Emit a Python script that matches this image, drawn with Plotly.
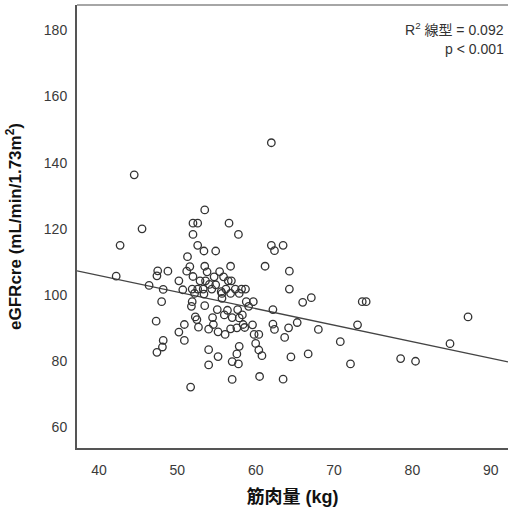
import plotly.graph_objects as go

muscle_kg = [
    42.2, 42.7, 44.5, 45.5, 46.4, 47.5, 47.4, 48.8, 48.2, 48.0, 47.3, 48.2, 48.1, 47.4,
    50.2, 50.7, 50.2, 50.9, 50.9, 51.3, 51.2, 51.6,
    52.0, 52.6, 52.0, 53.5, 56.6, 57.8, 52.6, 53.4, 54.9, 52.0, 53.5, 53.8, 52.9, 53.6,
    55.4, 56.8, 54.7, 55.9, 56.5, 56.9, 54.1,
    51.9, 52.6, 53.3, 54.4, 54.9, 56.2, 57.4, 58.2, 58.7, 55.6,
    52.2, 53.4, 55.7, 55.7, 56.8, 57.9,
    51.9, 51.8, 53.5, 55.1, 56.4, 57.7, 58.8, 59.7, 59.1, 56.0, 58.3,
    52.3, 52.5, 54.5, 57.0, 57.9,
    52.7, 54.0, 54.6, 55.2, 56.1, 56.8, 57.6, 58.4, 58.6, 59.6, 59.8, 60.4,
    60.0, 60.4, 60.8, 54.0, 55.2, 54.0, 57.0, 57.6, 57.9, 57.8, 57.0, 60.5, 51.7, 63.5,
    61.2, 62.0, 62.0, 62.4, 63.5, 64.3, 64.3, 66.0, 67.1, 62.2, 62.2, 62.4, 64.2, 65.3,
    68.0, 63.7, 70.8, 64.5, 66.7, 73.0, 73.6, 74.1, 72.1, 78.5, 80.4, 84.8, 87.1,
]
egfr = [
    105.7, 115.0, 136.3, 120.0, 102.9, 107.3, 105.8, 107.2, 101.7, 98.0, 92.1, 86.3, 84.3, 82.7,
    104.3, 101.6, 88.8, 91.1, 86.3, 111.6, 107.2, 108.6,
    121.7, 121.7, 118.3, 125.7, 121.7, 118.3, 115.0, 113.3, 113.3, 105.6, 108.7, 107.0, 104.3, 104.3,
    107.1, 108.7, 105.5, 105.5, 104.3, 104.3, 103.2,
    101.8, 101.8, 101.8, 101.8, 103.1, 101.8, 101.8, 101.8, 101.8, 101.0,
    100.5, 100.3, 100.5, 99.0, 100.5, 100.5,
    98.0, 96.6, 96.8, 95.6, 95.4, 95.6, 98.0, 98.0, 96.6, 94.0, 94.0,
    93.4, 92.6, 93.2, 93.2, 93.1,
    90.3, 89.7, 91.1, 88.9, 88.1, 89.8, 90.1, 91.1, 90.2, 91.0, 88.1, 88.1,
    85.4, 83.4, 81.7, 83.5, 81.4, 78.9, 79.9, 82.2, 84.5, 79.2, 74.5, 75.4, 72.2, 74.6,
    108.7, 146.0, 115.0, 113.4, 115.0, 107.2, 101.8, 97.8, 99.2, 95.6, 91.2, 89.6, 90.1, 91.7,
    89.6, 87.2, 85.9, 81.3, 82.2, 91.0, 98.0, 98.0, 79.2, 80.8, 80.0, 85.3, 93.4,
]

x_ticks = [40, 50, 60, 70, 80, 90]
y_ticks = [60, 80, 100, 120, 140, 160, 180]
x_range = [37.2, 92.2]
y_range = [53.8, 187.6]

fit_intercept = 125.9
fit_slope = -0.5
fit_x = [x_range[0], x_range[1]]
fit_y = [fit_intercept + fit_slope * v for v in fit_x]

stats_lines = ["R<sup>2</sup> 線型 = 0.092", "p < 0.001"]

font_main = "Liberation Sans, Arial, Noto Sans CJK JP, sans-serif"

fig = go.Figure()
fig.add_trace(go.Scatter(
    x=fit_x, y=fit_y, mode="lines",
    line=dict(color="#444444", width=1.3),
    hoverinfo="skip", showlegend=False,
))
fig.add_trace(go.Scatter(
    x=muscle_kg, y=egfr, mode="markers",
    marker=dict(symbol="circle-open", size=7.5, color="#333333",
                line=dict(width=1.3, color="#333333")),
    showlegend=False,
))

fig.update_layout(
    width=511, height=514,
    margin=dict(l=77, r=3, t=5, b=66),
    paper_bgcolor="white", plot_bgcolor="white",
    font=dict(family=font_main, size=14, color="#333333"),
    xaxis=dict(
        range=x_range, tickvals=x_ticks, showgrid=False, zeroline=False,
        showline=True, linecolor="#555555", linewidth=2,
        ticks="", ticklabelstandoff=8,
        tickfont=dict(size=14, color="#3a3a3a"),
        title=dict(text="<b>筋肉量 (kg)</b>", standoff=14,
                   font=dict(size=18, color="#111111",
                             family="Liberation Sans, Noto Sans CJK JP, sans-serif")),
    ),
    yaxis=dict(
        range=y_range, tickvals=y_ticks, showgrid=False, zeroline=False,
        showline=True, linecolor="#555555", linewidth=2,
        ticks="", ticklabelstandoff=5,
        tickfont=dict(size=14, color="#3a3a3a"),
        title=dict(text="<b>eGFRcre (mL/min/1.73m<sup>2</sup>)</b>", standoff=18,
                   font=dict(size=17, color="#111111",
                             family="Liberation Sans, Arial, sans-serif")),
    ),
    shapes=[
        dict(type="line", xref="paper", yref="paper", x0=0, x1=1, y0=1, y1=1,
             line=dict(color="#888888", width=1.5)),
    ],
    annotations=[
        dict(text=stats_lines[0], xref="paper", yref="paper", x=0.995, y=0.9458,
             xanchor="right", yanchor="middle", align="right", showarrow=False,
             font=dict(size=14, color="#333333",
                       family="Liberation Sans, Noto Sans CJK JP, sans-serif")),
        dict(text=stats_lines[1], xref="paper", yref="paper", x=0.995, y=0.9007,
             xanchor="right", yanchor="middle", align="right", showarrow=False,
             font=dict(size=14, color="#333333",
                       family="Liberation Sans, Noto Sans CJK JP, sans-serif")),
    ],
)

fig.write_html("out.html", config={"displayModeBar": False},
               post_script="document.body.style.margin='0';document.body.style.overflow='hidden';")
